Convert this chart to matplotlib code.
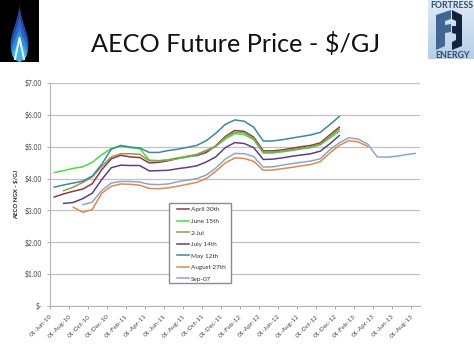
import matplotlib
matplotlib.use("Agg")
import numpy as np
import matplotlib.pyplot as plt
from matplotlib.patches import Polygon, Rectangle
from matplotlib.transforms import ScaledTranslation

W, H = 474, 355

# monthly values, starting at Jun-10
april_30 = [3.42, 3.52, 3.60, 3.67, 3.84, 4.28, 4.62, 4.73, 4.68, 4.66, 4.49, 4.51, 4.56, 4.63, 4.69, 4.72,
            4.82, 5.03, 5.32, 5.51, 5.48, 5.30, 4.87, 4.87, 4.90, 4.95, 5.00, 5.04, 5.12, 5.37, 5.61]
june_15 = [4.19, 4.25, 4.32, 4.37, 4.51, 4.75, 4.94, 5.02, 4.97, 4.94, 4.58, 4.56, 4.58, 4.63, 4.67, 4.75,
           4.88, 5.01, 5.24, 5.41, 5.38, 5.22, 4.80, 4.80, 4.84, 4.88, 4.93, 4.97, 5.06, 5.27, 5.48]
jul_2 = [None, 3.62, 3.73, 3.88, 4.05, 4.38, 4.68, 4.78, 4.78, 4.76, 4.56, 4.56, 4.59, 4.65, 4.70, 4.76,
         4.88, 5.01, 5.29, 5.46, 5.44, 5.26, 4.83, 4.83, 4.87, 4.90, 4.95, 5.00, 5.08, 5.32, 5.55]
july_14 = [None, 3.22, 3.25, 3.37, 3.54, 3.97, 4.34, 4.42, 4.41, 4.41, 4.24, 4.25, 4.26, 4.31, 4.35, 4.40,
           4.52, 4.68, 4.97, 5.13, 5.10, 4.97, 4.60, 4.61, 4.65, 4.70, 4.74, 4.78, 4.86, 5.09, 5.35]
may_12 = [3.73, 3.80, 3.86, 3.92, 4.08, 4.45, 4.92, 5.04, 4.99, 4.96, 4.82, 4.82, 4.88, 4.92, 4.98, 5.04,
          5.19, 5.42, 5.70, 5.84, 5.80, 5.61, 5.18, 5.18, 5.22, 5.27, 5.32, 5.37, 5.45, 5.69, 5.95]
august_27 = [None, None, 3.10, 2.94, 3.03, 3.54, 3.76, 3.83, 3.82, 3.79, 3.69, 3.68, 3.71, 3.76, 3.82, 3.88,
             4.00, 4.23, 4.49, 4.65, 4.63, 4.54, 4.26, 4.27, 4.31, 4.35, 4.40, 4.44, 4.53, 4.80, 5.04,
             5.19, 5.15, 5.01]
sep_07 = [None, None, None, 3.18, 3.26, 3.63, 3.86, 3.91, 3.91, 3.89, 3.82, 3.81, 3.83, 3.90, 3.95, 4.00,
          4.11, 4.33, 4.61, 4.79, 4.78, 4.69, 4.36, 4.37, 4.42, 4.47, 4.51, 4.55, 4.62, 4.90, 5.12,
          5.28, 5.24, 5.08, 4.68, 4.67, 4.70, 4.75, 4.79]

series_names = ["April 30th", "June 15th", "2-Jul", "July 14th", "May 12th", "August 27th", "Sep-07"]
series_values = [april_30, june_15, jul_2, july_14, may_12, august_27, sep_07]
series_colors = ["#8f3a3c", "#46e03a", "#8c9a58", "#5f3f85", "#3a8a9c", "#e0894a", "#8fa5c8"]

x_labels = ["01-Jun-10", "01-Aug-10", "01-Oct-10", "01-Dec-10", "01-Feb-11", "01-Apr-11", "01-Jun-11",
            "01-Aug-11", "01-Oct-11", "01-Dec-11", "01-Feb-12", "01-Apr-12", "01-Jun-12", "01-Aug-12",
            "01-Oct-12", "01-Dec-12", "01-Feb-13", "01-Apr-13", "01-Jun-13", "01-Aug-13"]
y_ticks = [0, 1, 2, 3, 4, 5, 6, 7]
y_labels = ["$-", "$1.00", "$2.00", "$3.00", "$4.00", "$5.00", "$6.00", "$7.00"]

plt.rcParams["font.family"] = ["Lato", "DejaVu Sans"]
plt.rcParams["text.parse_math"] = False

fig = plt.figure(figsize=(W / 100, H / 100), dpi=100)

# whole slide in pixel coordinates, for the title and the logos
bg = fig.add_axes([0, 0, 1, 1])
bg.axis("off")
bg.text(236, 44, "AECO Future Price - $/GJ", fontsize=18.2, color="#111111", ha="center", va="center")


def flame(cx, top, bottom, half_w, color):
    t = np.linspace(0, 1, 60)
    y = top + (bottom - top) * t
    w = half_w * np.sin(np.pi * t ** 1.9) ** 0.8
    pts = np.r_[np.c_[cx - w, y], np.c_[cx + w[::-1], y[::-1]]]
    bg.add_patch(Polygon(pts, closed=True, fc=color, ec="none"))


# gas flame logo
bg.add_patch(Rectangle((0, 0), 39, 62, fc="#000000", ec="none"))
flame(19.5, 4, 62, 9, "#2a3f96")
flame(19.5, 14, 62, 8.5, "#2b62c6")
flame(19.5, 26, 62, 8, "#2f8fdc")
flame(19.5, 38, 62, 7, "#3fb4e8")
bg.plot([15, 19.5, 24], [59, 38, 59], color="#e4f6fb", lw=1.5)
bg.plot([17.5, 19.5, 21.5], [59, 47, 59], color="#3fb4e8", lw=1)

# fortress energy logo
grad = np.linspace(0, 1, 50).reshape(-1, 1)
cmap = matplotlib.colors.LinearSegmentedColormap.from_list("logo", ["#dfeaf5", "#b4cfe8"])
bg.imshow(grad, extent=(428, 474, 59, 0), cmap=cmap, aspect="auto", zorder=1)
bg.add_patch(Polygon([(436, 15), (451, 10), (451, 19), (445, 21), (445, 25), (451, 24), (451, 32), (445, 33),
                      (445, 46), (436, 50)], closed=True, fc="#3f6792", ec="none", zorder=2))
bg.add_patch(Polygon([(452, 10), (462, 15), (462, 46), (452, 50), (452, 42), (456, 40), (456, 34), (452, 33),
                      (452, 26), (456, 26), (456, 21), (452, 19)], closed=True, fc="#16233f", ec="none", zorder=2))
bg.text(451.5, 5.5, "FORTRESS", fontsize=6.3, weight="bold", color="#2c4a70", ha="center", va="center", zorder=4)
bg.text(453, 55, "ENERGY", fontsize=6.3, weight="bold", color="#2c4a70", ha="center", va="center", zorder=4)
bg.set_xlim(0, W)
bg.set_ylim(H, 0)

# chart area
left, right, top, bottom = 49.5, 420, 83, 306
ax = fig.add_axes([left / W, 1 - bottom / H, (right - left) / W, (bottom - top) / H])
ax.set_facecolor("none")
ax_w, ax_h = right - left, bottom - top

for name, vals, col in zip(series_names, series_values, series_colors):
    v = np.array(vals, dtype=float)
    ax.plot(np.arange(len(v)) + 0.5, v, color=col, lw=1.1, label=name)

ax.set_xlim(0, 39)
ax.set_ylim(0, 7)
ax.set_xticks(np.arange(len(x_labels)) * 2)
ax.set_xticklabels(x_labels, rotation=45, ha="right", rotation_mode="anchor", fontsize=4.6, color="#444444")
shift = ScaledTranslation(3.5 / 100, 0, fig.dpi_scale_trans)
for lab in ax.get_xticklabels():
    lab.set_transform(lab.get_transform() + shift)
ax.set_yticks(y_ticks)
ax.set_yticklabels(y_labels, fontsize=4.9, color="#444444")
ax.tick_params(axis="both", length=2, width=0.7, color="#aaaaaa")
ax.tick_params(axis="y", pad=3.5)
ax.grid(axis="y", color="#c2c2c2", lw=0.9)
ax.set_axisbelow(True)
for s in ["top", "right"]:
    ax.spines[s].set_visible(False)
for s in ["left", "bottom"]:
    ax.spines[s].set_color("#b5b5b5")
ax.set_ylabel("AECO NGX - $/GJ", fontsize=4.3, weight="bold", color="#222222")
ax.yaxis.set_label_coords(-30.5 / ax_w, 0.5)

# legend box drawn apart so the rows can sit where they do in the picture
ax.add_patch(Rectangle(((168.7 - left) / ax_w, (bottom - 283) / ax_h), 62.3 / ax_w, 80 / ax_h,
                       transform=ax.transAxes, fc="white", ec="#8c8c8c", lw=1, zorder=4.5))
leg = ax.legend(loc="upper left", bbox_to_anchor=((176.5 - left) / ax_w, (bottom - 207) / ax_h),
                borderaxespad=0, borderpad=0, fontsize=4.6, frameon=False, labelspacing=0.95,
                handlelength=1.9, handletextpad=0.3)
leg.set_zorder(5)
for t in leg.get_texts():
    t.set_color("#333333")

plt.savefig("out.png", dpi=100)
